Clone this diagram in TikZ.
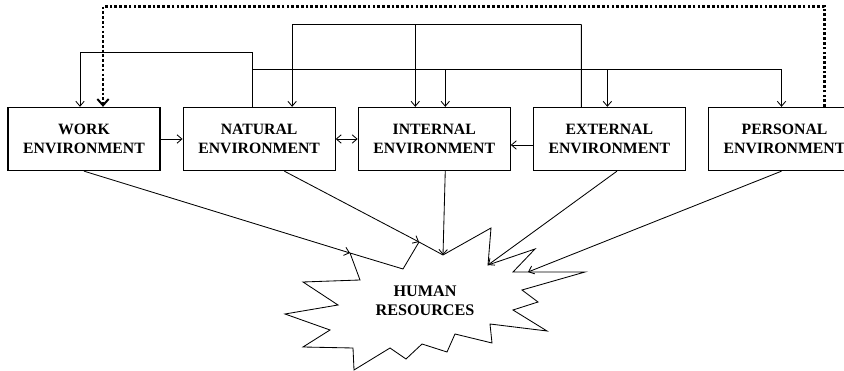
\documentclass[tikz,border=0pt]{standalone}
\usepackage{fontspec}
\setmainfont{Liberation Serif}
\usetikzlibrary{arrows.meta, positioning, calc}

\tikzset{
  envbox/.style={draw, line width=0.8pt, minimum width=3.8cm, minimum height=1.58cm,
                 align=center, inner sep=2pt, font=\fontsize{11.2}{14}\selectfont\bfseries},
  arr/.style={-{Straight Barb[length=3.5pt,width=6pt]}, line width=0.6pt},
  darr/.style={{Straight Barb[length=3.5pt,width=6pt]}-{Straight Barb[length=3.5pt,width=6pt]},
               line width=0.6pt},
  dotarr/.style={-{Straight Barb[length=4.5pt,width=8pt,line width=1.4pt]}, line width=1.9pt,
                 dash pattern=on 1.9pt off 1.5pt},
}

\begin{document}
\begin{tikzpicture}[
    line join=miter
  ]
  \useasboundingbox (0,0) rectangle (21.1,9.275);

  % Environments
  \node[envbox] (work) at (2.1, 5.8) {WORK\\ENVIRONMENT};
  \node[envbox, right=0.55cm of work] (nat) {NATURAL\\ENVIRONMENT};
  \node[envbox, right=0.55cm of nat] (int) {INTERNAL\\ENVIRONMENT};
  \node[envbox, right=0.55cm of int] (ext) {EXTERNAL\\ENVIRONMENT};
  \node[envbox, right=0.55cm of ext] (per) {PERSONAL\\ENVIRONMENT};

  % Side links
  \draw[arr] (work) -- (nat);
  \draw[darr] (nat) -- (int);
  \draw[arr] ([yshift=-0.15cm]ext.west) -- ([yshift=-0.15cm]int.east);

  % Natural -> work
  \draw[arr] ([xshift=-0.175cm]nat.north) -- ++(0,1.36) -| ([xshift=-0.1cm]work.north);

  % Natural -> internal, external, personal
  \coordinate (nbus) at ($(nat.north)+(-0.175,0.935)$);
  \draw[arr] (nbus) -| ([xshift=0.275cm]int.north);
  \draw[arr] (nbus) -| ([xshift=-0.05cm]ext.north);
  \draw[arr] (nbus) -| ([xshift=-0.075cm]per.north);

  % External -> natural, internal
  \coordinate (ebus) at ($(ext.north)+(-0.7,2.06)$);
  \draw[line width=0.6pt] ([xshift=-0.7cm]ext.north) -- (ebus);
  \draw[arr] (ebus) -| ([xshift=0.825cm]nat.north);
  \draw[arr] (ebus) -| ([xshift=-0.475cm]int.north);

  % Personal -> work (dotted)
  \draw[dotarr] ([xshift=1cm]per.north) -- ++(0,2.51) -| ([xshift=0.475cm]work.north);

  % Human resources burst
  \coordinate (hrW) at (8.75,2.95);
  \coordinate (hrN) at (10.475,3.225);
  \coordinate (hrI) at (11.075,2.9);
  \coordinate (hrE) at (12.2,2.65);
  \coordinate (hrP) at (13.2,2.475);
  \draw[line width=0.6pt, fill=white]
    (hrW) -- (10.075,2.55) -- (hrN) -- (hrI) -- (12.275,3.575) -- (hrE)
    -- (13.375,3.05) -- (12.825,2.475) -- (14.625,2.475) -- (13.05,2.025)
    -- (13.45,1.725) -- (12.825,1.525) -- (13.675,1.0) -- (12.25,1.175)
    -- (12.3,0.7) -- (11.375,0.925) -- (11.175,0.475) -- (10.55,0.675)
    -- (10.15,0.3) -- (9.75,0.575) -- (8.85,0.025) -- (8.825,0.575)
    -- (7.575,0.6) -- (8.25,1.025) -- (7.125,1.425) -- (8.45,1.65)
    -- (7.575,2.225) -- (9.0,2.275) -- cycle;
  \node[align=center, font=\fontsize{11.5}{13.5}\selectfont\bfseries] (hr) at (10.625,1.745) {HUMAN\\RESOURCES};

  % Into human resources
  \draw[arr] (work.south) -- (hrW);
  \draw[arr] ([xshift=0.63cm]nat.south) -- (hrN);
  \draw[arr] ([xshift=0.275cm]int.south) -- (hrI);
  \draw[arr] ([xshift=0.19cm]ext.south) -- (hrE);
  \draw[arr] ([xshift=-0.075cm]per.south) -- (hrP);

\end{tikzpicture}
\end{document}
